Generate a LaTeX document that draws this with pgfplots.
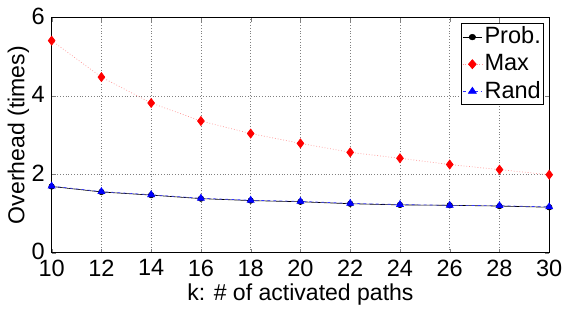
\documentclass[border=0pt]{standalone}
\usepackage{fontspec}
\setmainfont{Liberation Sans}
\usepackage{pgfplots}
\pgfplotsset{compat=1.18}
\begin{document}
\fontsize{23}{26}\selectfont
\begin{tikzpicture}
\begin{axis}[
  scale only axis,
  width=495bp, height=234bp,
  xmin=10, xmax=30, ymin=0, ymax=6,
  xtick={10,12,...,30}, ytick={0,2,4,6},
  /pgf/number format/assume math mode=true,
  tick label style={font=\fontsize{23.5}{26}\selectfont},
  label style={font=\fontsize{23}{26}\selectfont},
  xlabel={k: \# of activated paths},
  ylabel={Overhead (times)},
  xlabel style={yshift=8pt},
  ylabel style={yshift=-13pt},
  xticklabel style={yshift=1pt},
  yticklabel style={xshift=1pt, yshift=1.5pt},
  grid=major,
  grid style={black!50, dash pattern=on 0.6pt off 2.2pt, line width=0.5pt},
  tick align=inside,
  major tick length=4bp,
  axis line style={line width=0.9pt},
  legend style={at={(0.99,0.975)}, anchor=north east, font=\fontsize{23.5}{26}\selectfont,
    draw=black, line width=0.9pt, inner sep=1pt, row sep=3pt},
  legend image post style={xscale=1.15},
  legend cell align=left,
]
\addplot[black, line width=0.6pt, mark=*, mark size=2.8pt] coordinates {
(10,1.69) (12,1.55) (14,1.47) (16,1.38) (18,1.33) (20,1.30) (22,1.25) (24,1.22) (26,1.21) (28,1.19) (30,1.16)};
\addlegendentry{Prob.}
\addplot[red!40, dash pattern=on 0.8pt off 2pt, line width=0.7pt, mark=diamond*, mark size=4.5pt, mark options={solid, red, fill=red}] coordinates {
(10,5.41) (12,4.48) (14,3.82) (16,3.36) (18,3.04) (20,2.79) (22,2.56) (24,2.41) (26,2.25) (28,2.12) (30,1.99)};
\addlegendentry{Max}
\addplot[blue!80, dashed, line width=0.6pt, mark=triangle*, mark size=4pt, mark options={solid, blue, fill=blue}] coordinates {
(10,1.70) (12,1.56) (14,1.48) (16,1.39) (18,1.34) (20,1.31) (22,1.26) (24,1.23) (26,1.21) (28,1.20) (30,1.17)};
\addlegendentry{Rand}
\end{axis}
\end{tikzpicture}
\end{document}
